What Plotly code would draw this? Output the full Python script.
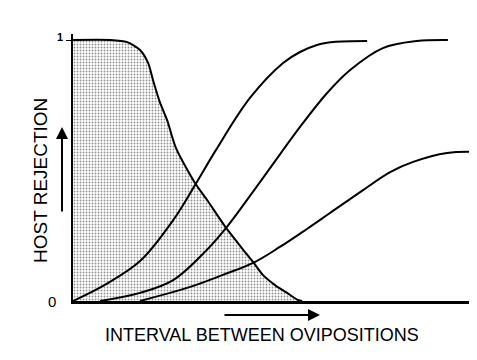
import plotly.graph_objects as go

# Shaded curve (decreasing)
shade_x = [0, 9.2, 13.4, 16.6, 18.6, 19.8, 21.5, 23.3, 25.5, 30.2, 33.2, 37.9, 41.8, 44.6, 47.0, 50.0, 53.0, 55.7, 56.7]
shade_y = [1.0, 1.0, 0.992, 0.962, 0.912, 0.847, 0.762, 0.693, 0.586, 0.452, 0.387, 0.280, 0.203, 0.149, 0.100, 0.061, 0.031, 0.004, 0.0]

# Rising curves
c1_x = [0, 8.2, 16.6, 24.8, 30.2, 35.4, 43.8, 52.0, 56.2, 60.4, 64.4, 72.8]
c1_y = [0.0, 0.065, 0.153, 0.310, 0.444, 0.579, 0.778, 0.912, 0.954, 0.981, 0.992, 0.996]

c2_x = [6.7, 16.6, 24.8, 32.9, 37.9, 47.0, 56.2, 62.9, 68.6, 76.7, 85.1, 92.8]
c2_y = [0.0, 0.031, 0.080, 0.192, 0.280, 0.471, 0.667, 0.797, 0.885, 0.969, 0.996, 1.0]

c3_x = [16.6, 29.0, 37.1, 44.6, 51.2, 57.9, 63.6, 71.8, 78.5, 84.2, 92.6, 100]
c3_y = [0.0, 0.054, 0.100, 0.146, 0.207, 0.276, 0.337, 0.425, 0.494, 0.533, 0.567, 0.571]

y_tick_labels = ["0", "1"]
x_title = "INTERVAL BETWEEN OVIPOSITIONS"
y_title = "HOST REJECTION"

FONT = "Liberation Sans, Arial, Helvetica, sans-serif"

fig = go.Figure()
fig.add_trace(go.Scatter(
    x=shade_x, y=shade_y, mode="lines", fill="tozeroy",
    line=dict(color="black", width=2, shape="spline", smoothing=0.7),
    fillcolor="rgba(0,0,0,0)",
    fillpattern=dict(shape=".", fgcolor="#222222", bgcolor="white", size=3, solidity=0.3),
    hoverinfo="skip", showlegend=False))
for xs, ys in [(c1_x, c1_y), (c2_x, c2_y), (c3_x, c3_y)]:
    fig.add_trace(go.Scatter(
        x=xs, y=ys, mode="lines",
        line=dict(color="black", width=2, shape="spline", smoothing=1.0),
        hoverinfo="skip", showlegend=False))

# page body has an 8px default margin, so the figure is shrunk to compensate
fig.update_layout(
    width=469, height=352,
    margin=dict(l=65, r=0, t=26, b=59),
    paper_bgcolor="white", plot_bgcolor="white",
    font=dict(family=FONT, color="black"),
    xaxis=dict(range=[0, 100], showgrid=False, zeroline=False, showline=True,
               linecolor="black", linewidth=3, showticklabels=False, ticks=""),
    yaxis=dict(range=[0, 1.023], showgrid=False, zeroline=False, showline=True,
               linecolor="black", linewidth=2, tickvals=[1], ticks="outside",
               ticklen=5, tickwidth=1, tickcolor="black", showticklabels=False),
)

annotations = [
    dict(text="<b>" + y_tick_labels[1] + "</b>", xref="paper", yref="y", x=-0.02, y=1.01,
         xanchor="right", yanchor="middle", showarrow=False,
         font=dict(size=11, family=FONT)),
    dict(text=y_tick_labels[0], xref="paper", yref="y", x=-0.037, y=0,
         xanchor="right", yanchor="middle", showarrow=False,
         font=dict(size=15, family=FONT)),
    dict(text=y_title, xref="paper", yref="paper", x=-0.0817, y=0.453,
         xanchor="center", yanchor="middle", textangle=-90, showarrow=False,
         font=dict(size=19, family=FONT)),
    dict(text=x_title, xref="paper", yref="paper", x=0.469, y=-0.1255,
         xanchor="center", yanchor="middle", showarrow=False,
         font=dict(size=18, family=FONT)),
    # y arrow
    dict(text="", xref="paper", yref="paper", x=-0.0272, y=0.6517,
         ax=0, ay=86, showarrow=True, arrowhead=2, arrowsize=1.2,
         arrowwidth=2, arrowcolor="black", standoff=0),
    # x arrow
    dict(text="", xref="paper", yref="paper", x=0.6114, y=-0.0524,
         ax=-97, ay=0, showarrow=True, arrowhead=2, arrowsize=1.2,
         arrowwidth=2, arrowcolor="black", standoff=0),
]
fig.update_layout(annotations=annotations)

fig.write_html("out.html")
